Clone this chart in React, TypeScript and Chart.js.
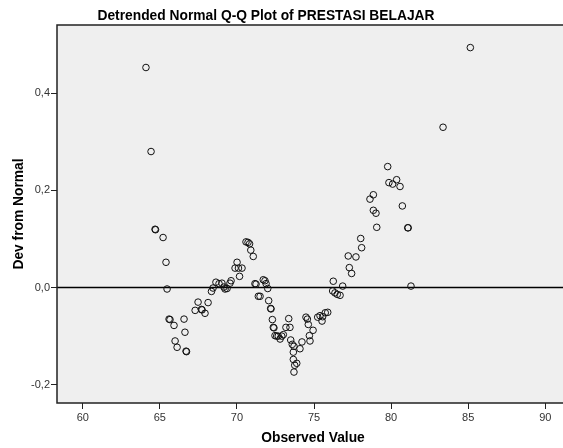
import React, { useEffect, useRef } from "react";
import { Chart, registerables } from "chart.js";

Chart.register(...registerables);

const TITLE = "Detrended Normal Q-Q Plot of PRESTASI BELAJAR";
const X_TITLE = "Observed Value";
const Y_TITLE = "Dev from Normal";

const X_MIN = 58.33;
const X_MAX = 91.54;
const Y_MIN = -0.2377;
const Y_MAX = 0.5405;

const X_TICKS = [60, 65, 70, 75, 80, 85, 90];
const Y_TICKS = [-0.2, 0, 0.2, 0.4];

const OBSERVED = [
  64.1, 64.43, 64.69, 64.72, 65.21, 65.4, 65.47, 65.6, 65.66, 65.92,
  65.99, 66.12, 66.57, 66.63, 66.7, 66.73, 67.29, 67.48, 67.7, 67.74,
  67.93, 68.13, 68.35, 68.45, 68.64, 68.84, 69.03, 69.16, 69.23, 69.36,
  69.55, 69.62, 69.88, 70.01, 70.1, 70.17, 70.33, 70.59, 70.72, 70.82,
  70.9, 71.06, 71.17, 71.24, 71.39, 71.5, 71.71, 71.82, 71.89, 72.0,
  72.06, 72.19, 72.21, 72.3, 72.36, 72.4, 72.47, 72.58, 72.68, 72.8,
  72.91, 73.01, 73.18, 73.36, 73.44, 73.49, 73.59, 73.66, 73.66, 73.7,
  73.75, 73.7, 73.88, 74.09, 74.22, 74.48, 74.57, 74.63, 74.7, 74.74,
  74.94, 75.24, 75.39, 75.52, 75.56, 75.73, 75.89, 76.21, 76.25, 76.36,
  76.51, 76.69, 76.86, 77.22, 77.29, 77.44, 77.72, 78.03, 78.09, 78.63,
  78.85, 78.85, 79.02, 79.07, 79.78, 79.86, 80.1, 80.36, 80.58, 80.73,
  81.08, 81.11, 81.29, 83.37, 85.14,
];

const DEV_FROM_NORMAL = [
  0.453, 0.28, 0.12, 0.119, 0.103, 0.052, -0.003, -0.065, -0.066, -0.078,
  -0.11, -0.123, -0.065, -0.092, -0.131, -0.132, -0.047, -0.03, -0.045, -0.046,
  -0.053, -0.031, -0.008, -0.001, 0.011, 0.008, 0.009, 0.001, -0.003, -0.002,
  0.009, 0.014, 0.04, 0.052, 0.04, 0.023, 0.04, 0.094, 0.093, 0.09,
  0.077, 0.064, 0.008, 0.007, -0.018, -0.018, 0.016, 0.014, 0.008, -0.002,
  -0.027, -0.043, -0.044, -0.066, -0.082, -0.083, -0.099, -0.1, -0.1, -0.106,
  -0.1, -0.097, -0.082, -0.064, -0.082, -0.108, -0.117, -0.133, -0.148, -0.121,
  -0.16, -0.174, -0.156, -0.126, -0.112, -0.061, -0.065, -0.076, -0.099, -0.11,
  -0.088, -0.061, -0.058, -0.069, -0.06, -0.052, -0.051, -0.007, 0.013, -0.011,
  -0.014, -0.016, 0.003, 0.065, 0.041, 0.029, 0.063, 0.101, 0.082, 0.182,
  0.191, 0.159, 0.153, 0.124, 0.249, 0.216, 0.213, 0.222, 0.208, 0.168,
  0.123, 0.123, 0.003, 0.33, 0.494,
];

const FONT_FAMILY = "'Liberation Sans', Arial, sans-serif";

const frameAndTitle = {
  id: "frameAndTitle",
  beforeDraw(chart: any) {
    const { ctx, chartArea } = chart;
    ctx.save();
    ctx.fillStyle = "#EFEFEF";
    ctx.fillRect(chartArea.left, chartArea.top, chartArea.right - chartArea.left, chartArea.bottom - chartArea.top);
    ctx.restore();
  },
  afterDraw(chart: any) {
    const { ctx, chartArea } = chart;
    ctx.save();
    ctx.strokeStyle = "#222";
    ctx.lineWidth = 1.5;
    ctx.strokeRect(chartArea.left, chartArea.top, chartArea.right - chartArea.left, chartArea.bottom - chartArea.top);
    ctx.fillStyle = "#000";
    ctx.font = "bold 13.8px " + FONT_FAMILY;
    ctx.textAlign = "center";
    ctx.textBaseline = "middle";
    ctx.fillText(TITLE, 266, 16);
    ctx.restore();
  },
};

export default function App() {
  const ref = useRef<HTMLCanvasElement | null>(null);

  useEffect(() => {
    if (!ref.current) return;
    const points = OBSERVED.map((x, i) => ({ x, y: DEV_FROM_NORMAL[i] }));
    const chart = new Chart(ref.current, {
      type: "scatter",
      data: {
        datasets: [
          {
            type: "line",
            data: [
              { x: X_MIN, y: 0 },
              { x: X_MAX, y: 0 },
            ],
            borderColor: "#000",
            borderWidth: 1.5,
            pointRadius: 0,
            order: 2,
          } as any,
          {
            data: points,
            pointRadius: 3.3,
            pointBorderWidth: 1,
            borderColor: "#111",
            backgroundColor: "rgba(0,0,0,0)",
            order: 1,
          },
        ],
      },
      options: {
        animation: false,
        responsive: false,
        devicePixelRatio: 1,
        layout: { padding: { top: 25, right: 6, left: 0, bottom: 0 } },
        plugins: {
          legend: { display: false },
          title: { display: false },
          tooltip: { enabled: false },
        },
        scales: {
          x: {
            type: "linear",
            min: X_MIN,
            max: X_MAX,
            afterBuildTicks: (s: any) => {
              s.ticks = X_TICKS.map((v) => ({ value: v }));
            },
            afterFit: (s: any) => {
              s.height = 45;
            },
            border: { display: false },
            grid: { drawOnChartArea: false, drawTicks: true, tickLength: 6, color: "#222", lineWidth: 1 },
            ticks: {
              padding: 2,
              color: "#333",
              font: { family: FONT_FAMILY, size: 11 },
              callback: (v: any) => String(v),
              maxRotation: 0,
            },
            title: {
              display: true,
              text: X_TITLE,
              color: "#000",
              font: { family: FONT_FAMILY, size: 13.8, weight: "bold" },
              padding: { top: 0, bottom: 2 },
            },
          },
          y: {
            type: "linear",
            min: Y_MIN,
            max: Y_MAX,
            afterBuildTicks: (s: any) => {
              s.ticks = Y_TICKS.map((v) => ({ value: v }));
            },
            afterFit: (s: any) => {
              s.width = 57;
            },
            border: { display: false },
            grid: { drawOnChartArea: false, drawTicks: true, tickLength: 6, color: "#222", lineWidth: 1 },
            ticks: {
              padding: 1,
              color: "#333",
              font: { family: FONT_FAMILY, size: 11 },
              callback: (v: any) => Number(v).toFixed(1).replace(".", ","),
            },
            title: {
              display: true,
              text: Y_TITLE,
              color: "#000",
              font: { family: FONT_FAMILY, size: 13.8, weight: "bold" },
              padding: { top: 11, bottom: 0 },
            },
          },
        },
      },
      plugins: [frameAndTitle],
    });
    return () => chart.destroy();
  }, []);

  return (
    <div
      style={{
        position: "absolute",
        left: 0,
        top: 0,
        width: 563,
        height: 448,
        overflow: "hidden",
        background: "#fff",
      }}
    >
      <canvas ref={ref} width={575} height={448} style={{ display: "block" }} />
    </div>
  );
}
